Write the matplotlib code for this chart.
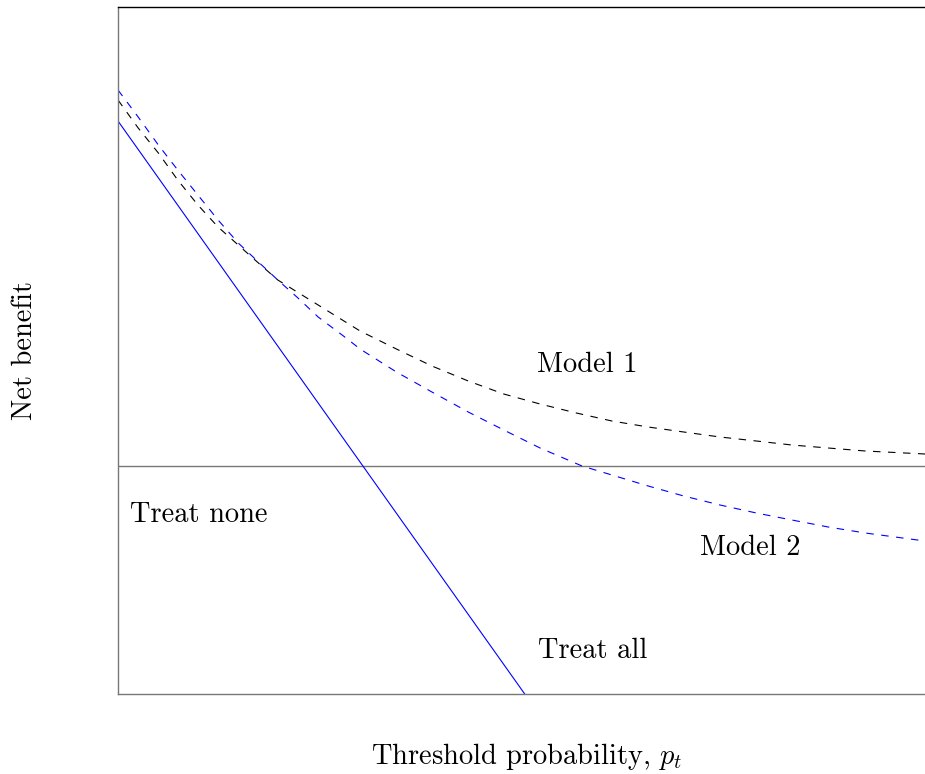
#!/usr/bin/env python3
"""Decision curve sketch: net benefit of two models vs treat-all / treat-none."""

import matplotlib
matplotlib.use('Agg')
import matplotlib.pyplot as plt

plt.rcParams['font.family'] = 'cmr10'
plt.rcParams['mathtext.fontset'] = 'cm'
plt.rcParams['axes.formatter.use_mathtext'] = True
plt.rcParams['lines.scale_dashes'] = False

# ── data (threshold on a 0–1 scale, net benefit in arbitrary units) ──────────
model1_pt = [0.000, 0.025, 0.050, 0.074, 0.099, 0.124, 0.149, 0.174, 0.198,
             0.232, 0.264, 0.300, 0.345, 0.389, 0.434, 0.478, 0.523, 0.568,
             0.612, 0.657, 0.701, 0.746, 0.791, 0.835, 0.880, 0.926, 1.000]
model1_nb = [0.366, 0.338, 0.313, 0.286, 0.261, 0.239, 0.221, 0.203, 0.186,
             0.169, 0.153, 0.135, 0.117, 0.100, 0.085, 0.072, 0.062, 0.053,
             0.045, 0.039, 0.034, 0.029, 0.025, 0.021, 0.018, 0.015, 0.012]

model2_pt = [0.000, 0.025, 0.050, 0.074, 0.099, 0.124, 0.149, 0.174, 0.198,
             0.223, 0.248, 0.281, 0.300, 0.345, 0.389, 0.434, 0.478, 0.523,
             0.575, 0.612, 0.657, 0.701, 0.746, 0.791, 0.835, 0.880, 0.926,
             1.000]
model2_nb = [0.376, 0.349, 0.321, 0.296, 0.271, 0.246, 0.223, 0.204, 0.186,
             0.168, 0.149, 0.129, 0.117, 0.094, 0.074, 0.054, 0.036, 0.018,
             0.000, -0.009, -0.020, -0.030, -0.039, -0.047, -0.054, -0.061,
             -0.067, -0.075]

treat_all_pt = [0.000, 0.504]
treat_all_nb = [0.345, -0.228]

treat_none_pt = [0.000, 1.000]
treat_none_nb = [0.000, 0.000]

GREY = '#777777'

fig = plt.figure(figsize=(9.25, 7.74), dpi=100)
ax = fig.add_axes([118 / 925, 1 - 694 / 774, 1 - 118 / 925, 687 / 774])

ax.plot(treat_none_pt, treat_none_nb, color=GREY, lw=1.0)
ax.plot(treat_all_pt, treat_all_nb, color='blue', lw=0.8)
ax.plot(model1_pt, model1_nb, color='black', lw=0.8, ls=(0, (5.4, 5.4)))
ax.plot(model2_pt, model2_nb, color='blue', lw=0.8, ls=(0, (5.4, 5.4)))

ax.set_xlim(0, 1)
ax.set_ylim(-0.228, 0.459)
ax.set_xticks([])
ax.set_yticks([])

ax.spines['right'].set_visible(False)
ax.spines['top'].set_color('black')
ax.spines['left'].set_color(GREY)
ax.spines['bottom'].set_color(GREY)
for s in ax.spines.values():
    s.set_linewidth(1.0)

fs = 20.5
ax.text(0.519, 0.101, 'Model 1', fontsize=fs, va='center', ha='left')
ax.text(0.721, -0.082, 'Model 2', fontsize=fs, va='center', ha='left')
ax.text(0.015, -0.049, 'Treat none', fontsize=fs, va='center', ha='left')
ax.text(0.520, -0.185, 'Treat all', fontsize=fs, va='center', ha='left')

ax.set_xlabel(r'Threshold probability, $p_t$', fontsize=fs, va='center')
ax.xaxis.set_label_coords(0.507, -0.0917)
ax.set_ylabel('Net benefit', fontsize=fs, va='center')
ax.yaxis.set_label_coords(-0.115, 0.5)

fig.savefig('out.png', dpi=100)
